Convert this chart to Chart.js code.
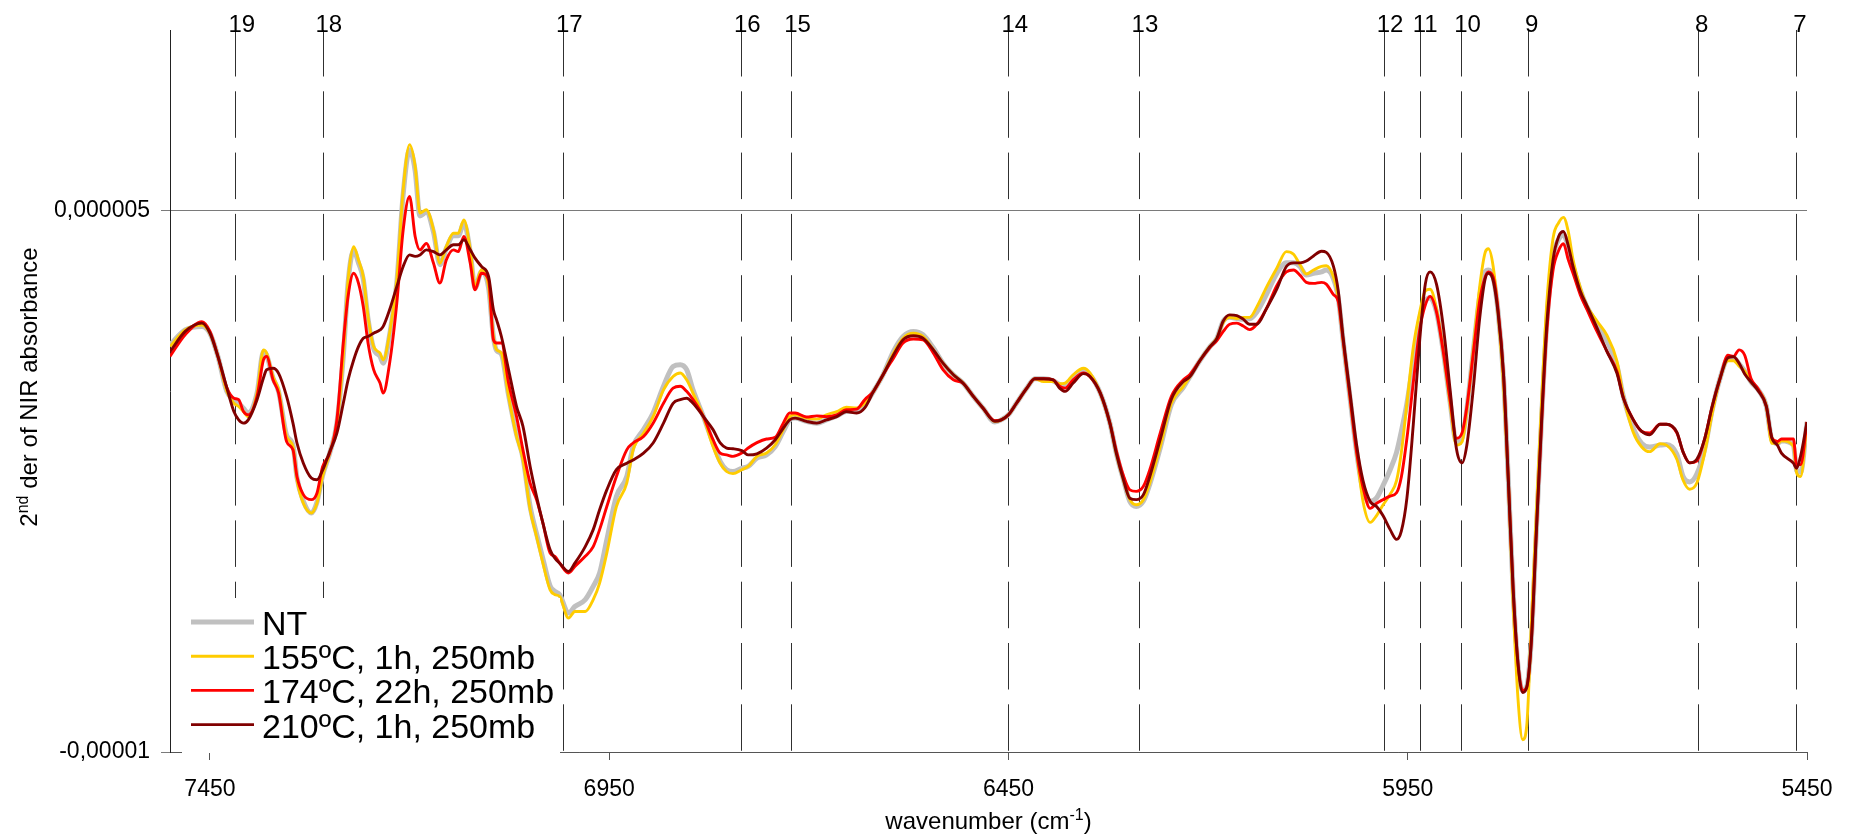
<!DOCTYPE html>
<html>
<head>
<meta charset="utf-8">
<script src="https://cdn.jsdelivr.net/npm/chart.js@4.4.1/dist/chart.umd.min.js"></script>
<style>
  html, body { margin: 0; padding: 0; background: #ffffff; }
  #wrap { width: 1854px; height: 838px; position: relative; }
  canvas { display: block; }
</style>
</head>
<body>
<div id="wrap"><canvas id="c" width="1854" height="838" style="width:1854px;height:838px"></canvas></div>
<script>
// ---- data (in units of 1e-6) ----
const valueUnit = 1e-6;
const wavenumbers = [7500,7481,7460,7450,7440,7429,7420,7414,7408,7402,7391,7383,7379,7371,7364,7354,7346,7341,7333,7323,7316,7309,7300,7291,7283,7277,7270,7264,7258,7252,7245,7237,7233,7225,7216,7208,7200,7193,7187,7179,7170,7162,7154,7145,7139,7132,7124,7118,7110,7101,7095,7091,7085,7076,7066,7058,7049,7041,7033,7024,7018,7012,7001,6993,6980,6970,6962,6953,6941,6928,6920,6907,6895,6882,6870,6861,6853,6845,6832,6820,6811,6803,6795,6784,6776,6765,6753,6742,6732,6724,6717,6703,6690,6678,6665,6653,6640,6630,6619,6607,6594,6582,6569,6557,6544,6532,6519,6507,6494,6482,6467,6459,6450,6440,6427,6417,6406,6394,6386,6379,6369,6356,6348,6335,6323,6315,6306,6298,6290,6281,6273,6260,6246,6231,6223,6210,6198,6189,6181,6173,6164,6156,6148,6139,6127,6114,6102,6093,6085,6077,6068,6058,6052,6043,6037,6031,6022,6014,6006,5997,5989,5981,5972,5964,5958,5951,5943,5935,5928,5922,5914,5905,5897,5889,5882,5876,5868,5860,5853,5849,5843,5837,5830,5824,5818,5812,5806,5801,5795,5789,5782,5776,5768,5761,5755,5749,5743,5734,5726,5713,5701,5688,5680,5668,5657,5647,5634,5626,5613,5605,5597,5588,5578,5569,5559,5549,5542,5535,5528,5520,5511,5501,5494,5487,5482,5467,5463,5458,5450];
const seriesNT  = [1.28,1.69,1.79,1.60,0.96,0.00,-0.24,-0.34,-0.48,-0.61,-0.06,1.09,1.00,0.36,-0.02,-1.22,-1.50,-2.40,-3.05,-3.38,-3.08,-2.35,-1.72,-0.89,0.96,3.00,3.90,3.55,3.10,2.00,1.18,0.96,0.77,1.55,3.00,5.45,6.68,6.10,4.85,4.95,4.40,3.50,3.95,4.30,4.30,4.65,3.85,2.85,3.30,2.85,1.50,1.12,1.02,-0.12,-1.20,-1.85,-3.20,-3.95,-4.65,-5.40,-5.55,-5.64,-6.15,-5.97,-5.78,-5.41,-5.04,-4.12,-2.92,-2.37,-1.54,-1.07,-0.61,0.13,0.68,0.73,0.59,0.03,-0.71,-1.44,-1.95,-2.18,-2.23,-2.14,-2.09,-1.86,-1.77,-1.54,-1.12,-0.80,-0.75,-0.84,-0.89,-0.80,-0.69,-0.57,-0.57,-0.38,-0.01,0.45,1.10,1.51,1.65,1.56,1.19,0.77,0.45,0.22,-0.15,-0.47,-0.86,-0.80,-0.66,-0.34,0.08,0.34,0.34,0.28,0.18,0.15,0.38,0.55,0.45,-0.06,-0.89,-1.72,-2.46,-3.06,-3.20,-3.05,-2.58,-1.58,-0.38,0.10,0.39,0.85,1.22,1.46,1.94,2.04,2.01,1.99,2.00,2.19,2.67,3.26,3.55,3.55,3.45,3.21,3.26,3.30,3.35,3.11,2.58,1.41,-0.24,-1.70,-2.77,-3.06,-2.96,-2.62,-2.18,-1.70,-1.12,-0.34,0.83,1.99,2.48,2.58,2.19,1.02,-0.30,-1.41,-1.30,-0.50,1.08,2.60,3.30,3.35,3.15,2.22,0.35,-2.48,-5.55,-7.60,-8.30,-8.20,-6.80,-3.90,-0.60,1.85,3.70,4.20,4.32,4.00,3.45,2.80,2.35,1.85,1.40,0.70,-0.15,-1.00,-1.45,-1.55,-1.50,-1.48,-1.75,-2.38,-2.52,-2.30,-1.60,-0.55,0.34,0.90,0.92,0.75,0.55,0.25,0.03,-0.42,-1.35,-1.45,-1.38,-1.50,-2.20,-2.25,-0.86];
const series155 = [1.23,1.69,1.83,1.60,0.96,0.00,-0.34,-0.43,-0.57,-0.71,-0.06,1.14,1.05,0.40,0.03,-1.26,-1.54,-2.46,-3.11,-3.38,-3.11,-2.37,-1.72,-0.89,0.96,3.08,4.00,3.63,3.17,2.06,1.23,1.05,0.86,1.60,3.08,5.57,6.82,6.22,4.93,5.02,4.46,3.54,4.00,4.37,4.37,4.74,3.91,2.89,3.36,2.89,1.51,1.14,1.05,-0.15,-1.26,-1.91,-3.29,-4.03,-4.77,-5.51,-5.64,-5.69,-6.29,-6.11,-6.11,-5.78,-5.32,-4.49,-3.20,-2.55,-1.63,-1.17,-0.71,0.03,0.40,0.50,0.31,-0.06,-0.71,-1.54,-2.00,-2.23,-2.29,-2.18,-2.09,-1.81,-1.72,-1.49,-1.07,-0.71,-0.66,-0.75,-0.78,-0.66,-0.57,-0.45,-0.47,-0.34,-0.01,0.45,1.05,1.46,1.60,1.51,1.14,0.77,0.45,0.22,-0.15,-0.47,-0.84,-0.80,-0.66,-0.34,0.08,0.34,0.26,0.26,0.20,0.22,0.45,0.63,0.50,-0.06,-0.89,-1.72,-2.46,-3.01,-3.15,-3.01,-2.55,-1.54,-0.34,0.13,0.39,0.85,1.22,1.46,1.90,2.04,2.01,2.04,2.04,2.33,2.87,3.40,3.86,3.79,3.50,3.24,3.35,3.45,3.47,3.16,2.58,1.41,-0.24,-1.70,-3.06,-3.64,-3.45,-3.16,-2.86,-2.48,-1.70,-0.34,1.22,2.19,2.77,2.82,2.28,1.02,-0.34,-1.50,-1.41,-0.53,1.12,2.87,3.84,3.94,3.45,2.19,0.15,-2.48,-5.88,-8.50,-9.66,-9.28,-6.36,-3.45,-0.14,2.38,4.23,4.66,4.81,4.42,3.64,2.87,2.38,1.94,1.56,0.83,-0.14,-1.12,-1.55,-1.68,-1.46,-1.50,-1.89,-2.48,-2.72,-2.55,-1.70,-0.65,0.34,0.84,0.84,0.69,0.55,0.25,0.03,-0.42,-1.45,-1.45,-1.38,-1.53,-2.27,-2.37,-0.86];
const series174 = [0.96,1.56,1.92,1.65,0.96,0.10,-0.20,-0.24,-0.57,-0.66,-0.15,0.86,0.96,0.31,-0.06,-1.40,-1.63,-2.37,-2.87,-3.01,-2.83,-2.10,-1.72,-0.80,1.33,2.62,3.26,2.99,2.34,1.33,0.59,0.22,-0.06,0.77,2.43,4.46,5.39,4.28,3.91,4.09,3.54,2.99,3.63,3.91,3.86,4.28,3.54,2.80,3.26,3.08,1.42,1.33,1.33,0.22,-0.71,-1.63,-2.55,-3.01,-3.66,-4.49,-4.58,-4.77,-5.04,-4.86,-4.58,-4.31,-3.84,-3.20,-2.37,-1.63,-1.44,-1.26,-0.89,-0.34,0.08,0.13,-0.01,-0.24,-0.71,-1.35,-1.72,-1.77,-1.81,-1.72,-1.58,-1.43,-1.33,-1.28,-0.89,-0.61,-0.61,-0.72,-0.69,-0.71,-0.66,-0.52,-0.50,-0.24,-0.01,0.45,0.91,1.33,1.44,1.42,1.05,0.59,0.31,0.22,-0.15,-0.47,-0.82,-0.80,-0.66,-0.34,0.08,0.34,0.34,0.31,0.13,0.08,0.31,0.50,0.40,-0.06,-0.89,-1.65,-2.35,-2.74,-2.78,-2.64,-2.18,-1.17,-0.15,0.31,0.45,0.85,1.20,1.40,1.65,1.85,1.88,1.80,1.70,1.85,2.28,2.92,3.30,3.35,3.21,3.01,2.98,3.01,2.96,2.67,2.48,1.41,-0.24,-1.70,-2.67,-3.25,-3.11,-3.01,-2.91,-2.82,-2.38,-1.31,0.24,1.70,2.38,2.62,2.19,1.02,-0.24,-1.31,-1.16,-0.44,1.02,2.48,3.16,3.30,3.16,2.28,0.44,-2.48,-5.49,-7.53,-8.30,-8.21,-6.85,-3.93,-0.73,1.60,3.35,3.89,4.08,3.64,3.26,2.67,2.28,1.65,1.12,0.54,-0.19,-0.78,-1.12,-1.16,-0.92,-0.92,-1.16,-1.70,-1.99,-1.94,-1.31,-0.45,0.34,0.99,0.96,1.14,0.99,0.34,0.05,-0.42,-1.30,-1.40,-1.33,-1.33,-2.04,-2.04,-0.86];
const series210 = [1.09,1.65,1.88,1.60,0.96,0.10,-0.57,-0.80,-0.89,-0.80,-0.24,0.36,0.59,0.63,0.49,-0.15,-0.89,-1.44,-2.00,-2.41,-2.46,-2.20,-1.68,-1.17,-0.34,0.31,0.86,1.23,1.46,1.51,1.60,1.69,1.79,2.25,2.89,3.45,3.77,3.73,3.77,3.91,3.86,3.77,3.91,4.05,4.05,4.19,3.91,3.68,3.45,3.17,2.25,1.97,1.51,0.59,-0.43,-0.98,-2.09,-2.92,-3.66,-4.40,-4.63,-4.77,-5.00,-4.77,-4.31,-3.84,-3.29,-2.74,-2.18,-2.00,-1.91,-1.72,-1.44,-0.89,-0.34,-0.24,-0.20,-0.34,-0.71,-1.07,-1.44,-1.58,-1.60,-1.65,-1.77,-1.74,-1.58,-1.35,-1.03,-0.80,-0.75,-0.84,-0.89,-0.80,-0.71,-0.57,-0.61,-0.47,-0.01,0.45,1.00,1.42,1.53,1.46,1.14,0.77,0.45,0.22,-0.15,-0.47,-0.84,-0.80,-0.66,-0.34,0.08,0.34,0.34,0.31,0.08,-0.01,0.22,0.48,0.40,-0.06,-0.89,-1.72,-2.46,-2.97,-3.01,-2.87,-2.37,-1.35,-0.23,0.26,0.39,0.85,1.22,1.46,1.94,2.11,2.09,1.99,1.85,1.85,2.28,2.82,3.45,3.55,3.55,3.60,3.74,3.87,3.84,3.45,2.77,1.50,-0.10,-1.50,-2.48,-3.06,-3.20,-3.45,-3.84,-4.11,-3.88,-2.96,-0.92,1.41,2.96,3.30,2.96,1.70,0.05,-1.60,-1.99,-1.50,0.05,1.99,3.11,3.26,3.06,2.19,0.44,-2.48,-5.49,-7.53,-8.35,-8.21,-6.85,-3.93,-0.63,1.80,3.64,4.28,4.42,4.03,3.45,2.77,2.38,1.75,1.12,0.49,-0.19,-0.78,-1.12,-1.21,-0.92,-0.92,-1.14,-1.70,-1.99,-1.89,-1.31,-0.45,0.34,0.92,0.95,0.77,0.47,0.25,0.00,-0.42,-1.30,-1.50,-1.72,-2.00,-2.14,-1.80,-0.86];
const seriesLabels = ['NT', '155\u00BAC, 1h, 250mb', '174\u00BAC, 22h, 250mb', '210\u00BAC, 1h, 250mb'];
const seriesColors = ['#C0C0C0', '#FFCC00', '#FF0000', '#800000'];
const seriesWidths = [5, 2.9, 2.9, 2.9];
const xTickValues = [7450, 6950, 6450, 5950, 5450];
const yTickValues = [-0.00001, 0.000005];
const yTickLabels = ['-0,00001', '0,000005'];
const bandPositions = [7418, 7309, 7008, 6785, 6722, 6450, 6287, 5980, 5935, 5883, 5800, 5587, 5464];
const bandLabels = ['19', '18', '17', '16', '15', '14', '13', '12', '11', '10', '9', '8', '7'];

const FONT = "'Liberation Sans', Arial, Helvetica, sans-serif";
Chart.defaults.font.family = FONT;

const allSeries = [seriesNT, series155, series174, series210];
const datasets = allSeries.map((s, k) => ({
  label: seriesLabels[k],
  data: wavenumbers.map((w, i) => ({ x: w, y: s[i] * valueUnit })),
  borderColor: seriesColors[k],
  backgroundColor: seriesColors[k],
  borderWidth: seriesWidths[k],
  pointRadius: 0,
  fill: false,
  cubicInterpolationMode: 'monotone',
  order: 4 - k
}));

function richWidth(ctx, parts, size) {
  let w = 0;
  parts.forEach(p => {
    ctx.font = (p.sup ? Math.round(size * 0.65) : size) + 'px ' + FONT;
    w += ctx.measureText(p.text).width;
  });
  return w;
}
function drawRich(ctx, parts, x, y, size) {
  let cx = x - richWidth(ctx, parts, size) / 2;
  parts.forEach(p => {
    const s = p.sup ? Math.round(size * 0.65) : size;
    ctx.font = s + 'px ' + FONT;
    ctx.fillText(p.text, cx, p.sup ? y - size * 0.38 : y);
    cx += ctx.measureText(p.text).width;
  });
}

const overlay = {
  id: 'overlay',
  beforeDatasetsDraw(chart) {
    const { ctx, chartArea, scales } = chart;
    ctx.save();
    ctx.strokeStyle = '#303030';
    ctx.lineWidth = 1;
    ctx.setLineDash([46.5, 14.8]);
    bandPositions.forEach(wn => {
      const px = Math.round(scales.x.getPixelForValue(wn)) + 0.5;
      ctx.beginPath();
      ctx.moveTo(px, chartArea.top);
      ctx.lineTo(px, chartArea.bottom);
      ctx.stroke();
    });
    ctx.restore();
  },
  afterDraw(chart) {
    const { ctx, chartArea, scales } = chart;
    ctx.save();
    ctx.fillStyle = '#000';
    ctx.textBaseline = 'alphabetic';
    ctx.textAlign = 'left';
    ctx.font = '24px ' + FONT;
    bandPositions.forEach((wn, i) => {
      const px = scales.x.getPixelForValue(wn);
      const off = bandLabels[i].length === 2 ? 7 : 2.5;
      ctx.fillText(bandLabels[i], px - off, 32);
    });
    ctx.fillStyle = '#ffffff';
    ctx.fillRect(182, 598, 378, 155);
    ctx.font = '34px ' + FONT;
    chart.data.datasets.forEach((ds, i) => {
      const base = 635 + i * 34.2;
      ctx.strokeStyle = ds.borderColor;
      ctx.lineWidth = ds.borderWidth;
      ctx.beginPath();
      ctx.moveTo(191, base - 13);
      ctx.lineTo(254, base - 13);
      ctx.stroke();
      ctx.fillStyle = '#000';
      ctx.fillText(ds.label, 262, base);
    });
    ctx.fillStyle = '#000';
    drawRich(ctx, [{ text: 'wavenumber (cm' }, { text: '-1', sup: true }, { text: ')' }],
      (chartArea.left + chartArea.right) / 2, 829, 24);
    ctx.translate(37, (chartArea.top + chartArea.bottom) / 2 - 4);
    ctx.rotate(-Math.PI / 2);
    drawRich(ctx, [{ text: '2' }, { text: 'nd', sup: true }, { text: ' der of NIR absorbance' }], 0, 0, 24);
    ctx.restore();
  }
};

new Chart(document.getElementById('c'), {
  type: 'line',
  data: { datasets },
  options: {
    responsive: false,
    animation: false,
    devicePixelRatio: 1,
    layout: { padding: { top: 30, right: 47, left: 0, bottom: 0 } },
    plugins: { legend: { display: false }, tooltip: { enabled: false }, title: { display: false } },
    elements: { point: { radius: 0 }, line: { tension: 0 } },
    scales: {
      x: {
        type: 'linear',
        reverse: true,
        min: 5450,
        max: 7500,
        afterBuildTicks: s => { s.ticks = xTickValues.map(v => ({ value: v })); },
        afterFit: s => { s.height = 86; },
        grid: { drawOnChartArea: false, drawTicks: true, tickLength: 8, color: '#555555', lineWidth: 1 },
        border: { display: true, color: '#555555', width: 1 },
        ticks: {
          color: '#000', font: { size: 23 }, padding: 16, maxRotation: 0, autoSkip: false,
          callback: v => String(v)
        }
      },
      y: {
        min: -0.00001,
        max: 0.00001,
        afterBuildTicks: s => { s.ticks = yTickValues.map(v => ({ value: v })); },
        afterFit: s => { s.width = 170; },
        grid: { drawOnChartArea: true, drawTicks: true, tickLength: 9, color: '#7a7a7a', lineWidth: 1 },
        border: { display: true, color: '#222222', width: 1 },
        ticks: {
          color: '#000', font: { size: 23 }, padding: 11, autoSkip: false,
          callback: (v, i) => yTickLabels[i]
        }
      }
    }
  },
  plugins: [overlay]
});
</script>
</body>
</html>
